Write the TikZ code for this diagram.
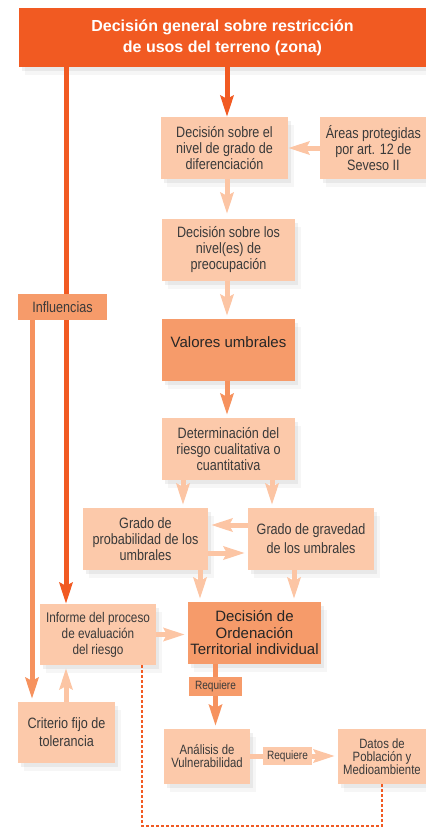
\documentclass[tikz,border=0pt]{standalone}
\usepackage{fontspec}
\setmainfont{Liberation Sans}
\newfontfamily\narrowfont{Liberation Sans}[FakeStretch=0.84]
\usetikzlibrary{arrows.meta,shadows,positioning}
\definecolor{zonared}{HTML}{F15A22}
\definecolor{boxlight}{HTML}{FCC9AA}
\definecolor{boxmed}{HTML}{F69B6A}
\definecolor{arrowlight}{HTML}{FCC5A4}
\definecolor{arrowmed}{HTML}{F6925E}
\definecolor{textgray}{HTML}{3A3A3A}
\tikzset{
    x=1pt, y=-1pt, % one unit per pixel, y pointing down
    >={Stealth[length=21pt,width=13pt,inset=3pt]}, % big flat heads
    boxshadow/.style={drop shadow={opacity=0.07, shadow xshift=6pt, shadow yshift=-8pt},
        drop shadow={opacity=0.12, shadow xshift=3pt, shadow yshift=-4pt}},
    box/.style={fill=boxlight, text=textgray, align=center, inner sep=0pt,
        font=\narrowfont\fontsize{15}{16}\selectfont, boxshadow},
    smallbox/.style={box, font=\narrowfont\fontsize{13.5}{13}\selectfont},
    keybox/.style={box, fill=boxmed, text=black!85, font=\fontsize{15}{16.5}\selectfont},
    tagbox/.style={fill=boxmed, text=textgray, inner sep=0pt, font=\narrowfont\fontsize{12}{13}\selectfont},
    zonebox/.style={fill=zonared, text=white, align=center, inner sep=0pt,
        font=\bfseries\fontsize{16}{21}\selectfont, boxshadow},
    redline/.style={draw=zonared, line width=5pt},
    lightline/.style={draw=arrowlight, line width=5pt, shorten >=3pt},
    medline/.style={draw=arrowmed, line width=5pt, shorten >=3pt},
    dashline/.style={draw=zonared, line width=1.1pt, dash pattern=on 3pt off 2pt},
}
\begin{document}
\begin{tikzpicture}
  \useasboundingbox (0,0) rectangle (426,828);

  % boxes
  \node[zonebox, minimum width=407, minimum height=59] (zona) at (222.5,37.5)
    {Decisión general sobre restricción\\de usos del terreno (zona)};
  \node[box, minimum width=127, minimum height=62] (dif) at (224.5,148)
    {Decisión sobre el\\nivel de grado de\\diferenciación};
  \node[box, minimum width=106, minimum height=62] (areas) [right=32 of dif]
    {Áreas protegidas\\por art. 12 de\\Seveso II};
  \node[box, minimum width=133, minimum height=62] (preo) at (228.5,250)
    {Decisión sobre los\\nivel(es) de\\preocupación};
  \node[keybox, minimum width=133, minimum height=62, text depth=16pt] (valores) at (228.5,350)
    {Valores umbrales};
  \node[box, minimum width=133, minimum height=62] (determ) at (228.5,449)
    {Determinación del\\riesgo cualitativa o\\cuantitativa};
  \node[box, minimum width=125, minimum height=62] (prob) at (145.5,539)
    {Grado de\\probabilidad de los\\umbrales};
  \node[box, minimum width=126, minimum height=62, font=\narrowfont\fontsize{15}{19}\selectfont] (grav) at (311,539)
    {Grado de gravedad\\de los umbrales};
  \node[keybox, minimum width=133, minimum height=62] (orden) at (254.5,633)
    {Decisión de\\Ordenación\\Territorial individual};
  \node[box, minimum width=116, minimum height=61, font=\narrowfont\fontsize{14}{16}\selectfont] (informe) at (98,634.5)
    {Informe del proceso\\de evaluación\\del riesgo};
  \node[fill=boxmed, text=textgray, inner sep=0pt, minimum width=89, minimum height=26,
      font=\narrowfont\fontsize{15}{16}\selectfont] (infl) at (62.5,307) {Influencias};
  \node[box, minimum width=97, minimum height=61, font=\narrowfont\fontsize{15}{18}\selectfont] (criterio) at (66.5,732.5)
    {Criterio fijo de\\tolerancia};
  \node[smallbox, minimum width=86, minimum height=55] (analisis) at (207,756.5)
    {Análisis de\\Vulnerabilidad};
  \node[smallbox, minimum width=88, minimum height=55] (datos) at (382,756.5)
    {Datos de\\Población y\\Medioambiente};
  \node[tagbox, minimum width=53, minimum height=19] (req_1) at (215.5,686.5) {Requiere};
  \node[tagbox, fill=boxlight, minimum width=49, minimum height=18] (req_2) at (287.5,756) {Requiere};

  % columns and rows used by the connectors
  \coordinate (spine) at (227,0);
  \coordinate (redcol) at (66,0);
  \coordinate (inflcol) at (32,0);
  \coordinate (probcol) at (183,0);
  \coordinate (gravcol) at (272,0);
  \coordinate (leftdrop) at (200,0);
  \coordinate (rightdrop) at (294,0);
  \coordinate (upperrow) at (0,525);
  \coordinate (lowerrow) at (0,553);
  \coordinate (dashcorner) at (142,826);

  % connectors
  \draw[redline, ->] (spine |- zona.south) -- (spine |- dif.north);
  \draw[redline] (redcol |- zona.south) -- (redcol |- infl.north);
  \draw[redline, ->] (redcol |- infl.south) -- (redcol |- informe.north);
  \draw[lightline, ->, shorten >=0pt] (areas.west) -- (dif.east);
  \draw[lightline, ->, shorten >=5pt] (spine |- dif.south) -- (spine |- preo.north);
  \draw[lightline, ->] (spine |- preo.south) -- (spine |- valores.north);
  \draw[medline, ->] (spine |- valores.south) -- (spine |- determ.north);
  \draw[lightline, ->] (probcol |- determ.south) -- (probcol |- prob.north);
  \draw[lightline, ->] (gravcol |- determ.south) -- (gravcol |- grav.north);
  \draw[lightline, ->] (grav.west |- upperrow) -- (prob.east |- upperrow);
  \draw[lightline, ->] (prob.east |- lowerrow) -- (grav.west |- lowerrow);
  \draw[lightline, ->] (leftdrop |- prob.south) -- (leftdrop |- orden.north);
  \draw[lightline, ->] (rightdrop |- grav.south) -- (rightdrop |- orden.north);
  \draw[lightline, ->] (informe.east) -- (orden.west |- informe.east);
  \draw[medline, ->] (inflcol |- infl.south) -- (inflcol |- criterio.north);
  \draw[lightline, ->] (redcol |- criterio.north) -- (redcol |- informe.south);
  \draw[medline, shorten >=0pt] (req_1 |- orden.south) -- (req_1.north);
  \draw[medline, ->] (req_1.south) -- (req_1 |- analisis.north);
  \draw[lightline, shorten >=0pt] (analisis.east |- req_2) -- (req_2.west);
  \draw[lightline, ->] (req_2.east) -- (datos.west |- req_2);
  \draw[dashline] (dashcorner |- informe.south) -- (dashcorner) -| (datos.south);
\end{tikzpicture}
\end{document}
